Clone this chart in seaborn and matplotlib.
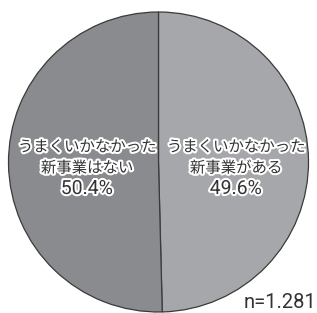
import matplotlib
matplotlib.use("Agg")
import matplotlib.pyplot as plt
import matplotlib.patheffects as pe
import seaborn as sns

sns.set_theme(style="white")
plt.rcParams['font.family'] = ['Noto Sans CJK JP', 'DejaVu Sans']

line1 = ["うまくいかなかった", "うまくいかなかった"]
line2 = ["新事業がある", "新事業はない"]
values = [49.6, 50.4]
colors = ["#a6a7aa", "#8a8b8f"]
n_label = "n=1.281"

W, H = 317, 313
fig = plt.figure(figsize=(W / 100, H / 100), dpi=100)
ax = fig.add_axes([0, 0, 1, 1])

cx, cy, r = 158.5, 162.0, 150.0  # pixel geometry

ax.pie(values, colors=colors, startangle=90, counterclock=False,
       radius=1.0, frame=True,
       wedgeprops=dict(edgecolor="#3a3a3a", linewidth=0.9))
ax.set_xlim(-cx / r, (W - cx) / r)
ax.set_ylim(-(H - cy) / r, cy / r)
ax.set_aspect('auto')
ax.axis('off')

stroke = [pe.withStroke(linewidth=3, foreground="white")]
xs = [236, 87]
for l1, l2, v, px in zip(line1, line2, values, xs):
    x = (px - cx) / r
    ax.text(x, (cy - 147) / r, l1, ha="center", va="center", fontsize=11.1,
            color="#333333", path_effects=stroke)
    ax.text(x, (cy - 168) / r, l2, ha="center", va="center", fontsize=11.1,
            color="#333333", path_effects=stroke)
    ax.text(x, (cy - 189) / r, f"{v:.1f}%", ha="center", va="center",
            fontsize=14, color="#333333", family=["Roboto", "DejaVu Sans"],
            path_effects=stroke)

fig.text(0.998, 0.003, n_label, ha="right", va="bottom", fontsize=14.5,
         color="#333333", family=["Roboto", "DejaVu Sans"])

fig.savefig("out.png", dpi=100, facecolor="white")
